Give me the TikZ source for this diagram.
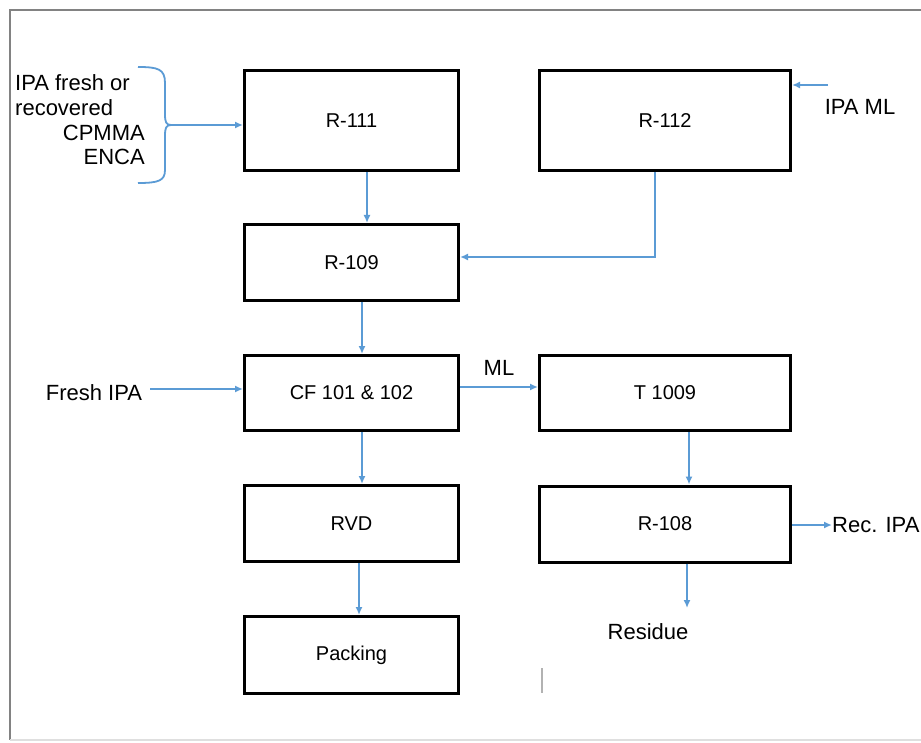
\documentclass[tikz,border=0pt]{standalone}
\usepackage{fontspec}
\setmainfont{Liberation Sans}
\usetikzlibrary{arrows.meta}
\definecolor{flowblue}{RGB}{91,155,213}
\definecolor{framegray}{RGB}{130,130,130}
\begin{document}
\begin{tikzpicture}[x=1pt,y=-1pt,
  unit/.style={draw,line width=3pt,minimum width=214pt,inner sep=0pt,font=\fontsize{20}{24}\selectfont},
  wideunit/.style={unit,minimum width=251pt},
  flow/.style={draw=flowblue,line width=1.8pt,-{Latex[length=8pt,width=7pt]}},
  lbl/.style={inner sep=0pt,font=\fontsize{22}{26}\selectfont}]
\useasboundingbox[fill=white] (0,0) rectangle (921,743);
\draw[framegray,line width=2pt] (921,10) -- (10,10) -- (10,740);
\draw[gray!25,line width=1.5pt] (10,740) -- (921,740);
\draw[gray!60,line width=1.5pt] (542,668) -- (542,693);
\node[unit,minimum height=100pt] (r111) at (351.5,120.5) {R-111};
\node[wideunit,minimum height=100pt] (r112) at (665,120.5) {R-112};
\node[unit,minimum height=76pt] (r109) at (351.5,262.5) {R-109};
\node[unit,minimum height=75pt] (cf) at (351.5,393) {CF 101 \& 102};
\node[wideunit,minimum height=75pt] (t1009) at (665,393) {T 1009};
\node[unit,minimum height=76pt] (rvd) at (351.5,523.5) {RVD};
\node[wideunit,minimum height=76pt] (r108) at (665,524) {R-108};
\node[unit,minimum height=77pt] (packing) at (351.5,655) {Packing};
\node[lbl,anchor=west] (ipafresh) at (15,83) {IPA fresh or};
\node[lbl,anchor=west] (recovered) at (15,108) {recovered};
\node[lbl,anchor=east] (cpmma) at (145,133) {CPMMA};
\node[lbl,anchor=east] (enca) at (145,157) {ENCA};
\node[lbl] (freshipa) at (94,393) {Fresh IPA};
\node[lbl] (ipaml) at (860,107) {IPA ML};
\node[lbl,anchor=west] (recipa) at (832,525) {Rec. IPA};
\node[lbl] (residue) at (648,632) {Residue};
\coordinate (bracetip) at (171,125);
\coordinate (mlstart) at (828,85);
\coordinate (resend) at (687,608);
\draw[flowblue,line width=1.8pt] (138,67) .. controls (158,67) and (165,69) .. (165,83)
  -- (165,114) .. controls (165,122) and (166,125) .. (bracetip)
  .. controls (166,125) and (165,128) .. (165,136) -- (165,170)
  .. controls (165,181) and (158,183) .. (138,183);
\draw[flow] (bracetip) -- ([yshift=-4.5pt]r111.west);
\draw[flow] (mlstart) -- ([yshift=35.5pt]r112.east);
\draw[flow] ([xshift=15.5pt]r111.south) -- ([xshift=15.5pt]r109.north);
\draw[flow] ([xshift=-10pt]r112.south) |- ([yshift=5.5pt]r109.east);
\draw[flow] ([xshift=10.5pt]r109.south) -- ([xshift=10.5pt]cf.north);
\draw[flow] ([xshift=8pt,yshift=4pt]freshipa.east) -- ([yshift=4pt]cf.west);
\draw[flow] ([yshift=6pt]cf.east) -- ([yshift=6pt]t1009.west) node[lbl,midway,yshift=19pt] (ml) {ML};
\draw[flow] ([xshift=10.5pt]cf.south) -- ([xshift=10.5pt]rvd.north);
\draw[flow] ([xshift=7.5pt]rvd.south) -- ([xshift=7.5pt]packing.north);
\draw[flow] ([xshift=24pt]t1009.south) -- ([xshift=24pt]r108.north);
\draw[flow] ([xshift=22pt]r108.south) -- (resend);
\draw[flow] ([yshift=-1pt]r108.east) -- (recipa.west);
\end{tikzpicture}
\end{document}
